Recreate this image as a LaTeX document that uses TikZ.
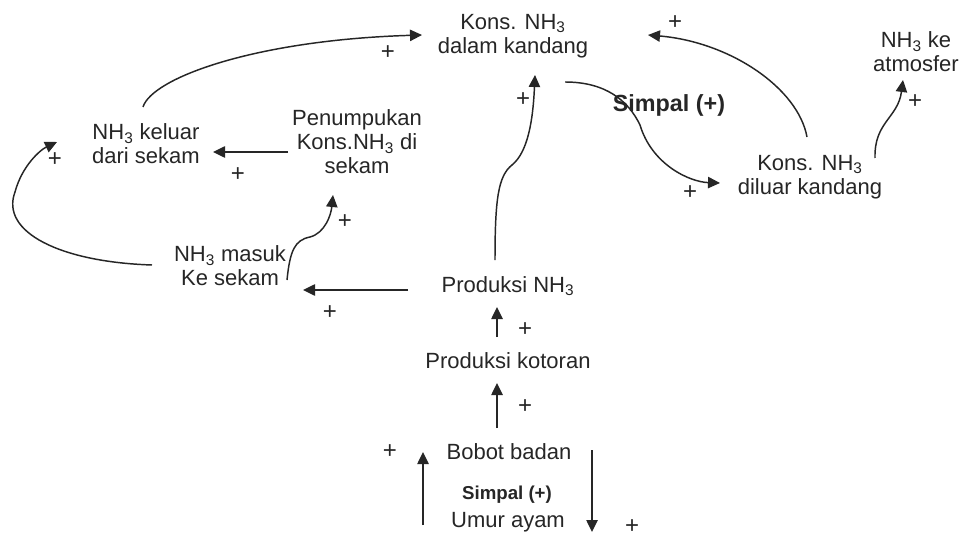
\documentclass[tikz,border=0pt]{standalone}
\usepackage{fontspec}
\setmainfont{Liberation Sans}
\usetikzlibrary{arrows.meta,calc}
\begin{document}
\begin{tikzpicture}[x=0.75pt,y=-0.75pt,
  lbl/.style={inner sep=0pt,align=center,font=\fontsize{16.5pt}{18pt}\selectfont,text=black!85},
  pl/.style={inner sep=0pt,font=\fontsize{18pt}{18pt}\selectfont,text=black!85},
  link/.style={line width=1.1pt,draw=black!85,-{Triangle[length=9pt,width=8.5pt]}}]
\useasboundingbox[fill=white] (0,0) rectangle (962,538);
% nodes
\node[lbl] (dalam) at (513,36) {Kons. NH\textsubscript{3}\\dalam kandang};
\node[lbl] (atm) at (916,52) {NH\textsubscript{3} ke\\atmosfer};
\node[lbl] (diluar) at (810,177) {Kons. NH\textsubscript{3}\\diluar kandang};
\node[lbl,font=\fontsize{17.5pt}{18pt}\selectfont\bfseries] (s1) at (669,105) {Simpal (+)};
\node[lbl] (keluar) at (146,144) {NH\textsubscript{3} keluar\\dari sekam};
\node[lbl] (pen) at (357,142) {Penumpukan\\Kons.NH\textsubscript{3} di\\sekam};
\node[lbl] (masuk) at (230,266) {NH\textsubscript{3} masuk\\Ke sekam};
\node[lbl] (pnh) at (508,286) {Produksi NH\textsubscript{3}};
\node[lbl] (kot) at (508,361) {Produksi kotoran};
\node[lbl] (bobot) at (509,452) {Bobot badan};
\node[lbl,font=\fontsize{14pt}{16pt}\selectfont\bfseries] (s2) at (507,495) {Simpal (+)};
\node[lbl] (umur) at (508,522) {Umur ayam};
% plus signs
\node[pl] (p1) at (388,53) {+};
\node[pl] (p2) at (675,23) {+};
\node[pl] (p3) at (690,193) {+};
\node[pl] (p4) at (915,102) {+};
\node[pl] (p5) at (523,100) {+};
\node[pl] (p6) at (238,175) {+};
\node[pl] (p7) at (345,222) {+};
\node[pl] (p8) at (55,160) {+};
\node[pl] (p9) at (330,313) {+};
\node[pl] (p10) at (525,330) {+};
\node[pl] (p11) at (525,407) {+};
\node[pl] (p12) at (390,452) {+};
\node[pl] (p13) at (632,527) {+};
% connectors
\draw[link] ($(keluar)+(-3,-37)$) .. controls (152,78) and (255,40) .. ($(dalam)+(-91,-1)$);
\draw[link] ($(diluar)+(-3,-40)$) .. controls (798,88) and (730,42) .. ($(dalam)+(135,-1)$);
\draw[link] ($(dalam)+(52,46)$) .. controls (605,82) and (628,100) .. (640,125)
   .. controls (652,165) and (690,182) .. ($(diluar)+(-90,6)$);
\draw[link] ($(diluar)+(65,-19)$) .. controls (874,122) and (898,118) .. ($(atm)+(-13,28)$);
\draw[link] ($(pnh)+(-13,-26)$) .. controls (495,200) and (498,176) .. (512,165)
   .. controls (528,152) and (533,120) .. ($(dalam)+(22,39)$);
\draw[link] ($(pen)+(-69,10)$) -- ($(keluar)+(67,8)$);
\draw[link] ($(masuk)+(57,14)$) .. controls (290,250) and (295,240) .. (310,237)
   .. controls (325,233) and (331,215) .. ($(pen)+(-24,53)$);
\draw[link] ($(masuk)+(-78,-1)$) .. controls (60,262) and (0,232) .. (15,192)
   .. controls (22,166) and (40,150) .. ($(keluar)+(-89,-2)$);
\draw[link] ($(pnh)+(-100,4)$) -- ($(masuk)+(73,24)$);
\draw[link] ($(kot)+(-11,-24)$) -- ($(pnh)+(-11,21)$);
\draw[link] ($(bobot)+(-12,-24)$) -- ($(kot)+(-11,22)$);
\draw[link] ($(umur)+(-85,3)$) -- ($(bobot)+(-86,0)$);
\draw[link] ($(bobot)+(83,-2)$) -- ($(umur)+(84,10)$);
\end{tikzpicture}
\end{document}
